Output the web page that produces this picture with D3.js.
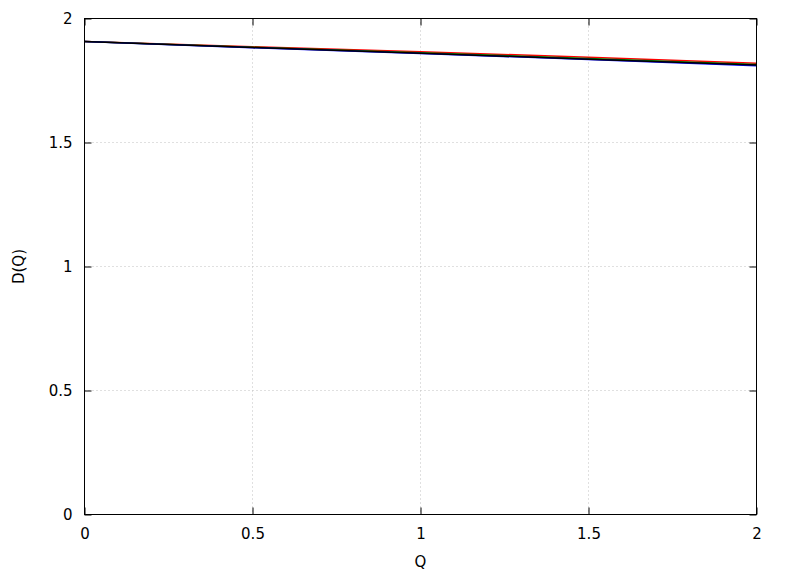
<!DOCTYPE html>
<html><head><meta charset="utf-8">
<script src="https://cdn.jsdelivr.net/npm/d3@7"></script>
<style>body{margin:0;background:#fff}</style>
</head><body><svg id="c" width="788" height="576"></svg>
<script>
const qValues = [0, 0.5, 1, 1.5, 2];
const redSeries   = [1.907, 1.886, 1.866, 1.844, 1.820];
const greenSeries = [1.907, 1.884, 1.862, 1.839, 1.815];
const blueSeries  = [1.907, 1.882, 1.859, 1.835, 1.809];
const blackSeries = [1.907, 1.883, 1.860, 1.836, 1.812];
const xTicks = [0, 0.5, 1, 1.5, 2];
const yTicks = [0, 0.5, 1, 1.5, 2];
const series = [
  {name:"red", color:"#ff0000", values:redSeries},
  {name:"green", color:"#008000", values:greenSeries},
  {name:"blue", color:"#0000ff", values:blueSeries},
  {name:"black", color:"#000000", values:blackSeries}
];
const svg = d3.select("#c");
const L=84.5, R=756.5, T=18.5, B=514.5;
const x = d3.scaleLinear().domain([0,2]).range([L,R]);
const y = d3.scaleLinear().domain([0,2]).range([B,T]);
const font = "'DejaVu Sans', sans-serif";
const fs = 15;
// grid
const g = svg.append("g");
xTicks.forEach(t=>{ if(t>0 && t<2) g.append("line").attr("x1",x(t)).attr("x2",x(t)).attr("y1",T).attr("y2",B)
  .attr("stroke","#c0c0c0").attr("stroke-width",1).attr("stroke-dasharray","1,3"); });
yTicks.forEach(t=>{ if(t>0 && t<2) g.append("line").attr("x1",L).attr("x2",R).attr("y1",y(t)).attr("y2",y(t))
  .attr("stroke","#c0c0c0").attr("stroke-width",1).attr("stroke-dasharray","1,3"); });
// axes with inner ticks
const ax = svg.append("g");
ax.append("g").attr("transform",`translate(0,${B})`).call(d3.axisBottom(x).tickValues(xTicks).tickSizeInner(-7).tickSizeOuter(0).tickPadding(14).tickFormat(d3.format("")));
ax.append("g").attr("transform",`translate(0,${T})`).call(d3.axisTop(x).tickValues(xTicks).tickSizeInner(-7).tickSizeOuter(0).tickFormat(""));
ax.append("g").attr("transform",`translate(${L},0)`).call(d3.axisLeft(y).tickValues(yTicks).tickSizeInner(-7).tickSizeOuter(0).tickPadding(12).tickFormat(d3.format("")));
ax.append("g").attr("transform",`translate(${R},0)`).call(d3.axisRight(y).tickValues(yTicks).tickSizeInner(-7).tickSizeOuter(0).tickFormat(""));
ax.selectAll(".domain").remove();
ax.selectAll("text").attr("fill","#000").attr("font-family",font).attr("font-size",fs);
ax.selectAll("line").attr("stroke","#000");
// lines
const line = d3.line().x((d,i)=>x(qValues[i])).y(d=>y(d));
series.forEach(s=>{
  svg.append("path").datum(s.values).attr("d",line).attr("fill","none").attr("stroke",s.color).attr("stroke-width",1.5);
});
// border
svg.append("rect").attr("x",L).attr("y",T).attr("width",R-L).attr("height",B-T).attr("fill","none").attr("stroke","#000").attr("stroke-width",1);
// labels
svg.append("text").attr("x",(L+R)/2).attr("y",567).attr("text-anchor","middle").attr("font-family",font).attr("font-size",fs).text("Q");
svg.append("text").attr("transform",`translate(24,${(T+B)/2}) rotate(-90)`).attr("text-anchor","middle").attr("font-family",font).attr("font-size",fs).text("D(Q)");
</script></body></html>
